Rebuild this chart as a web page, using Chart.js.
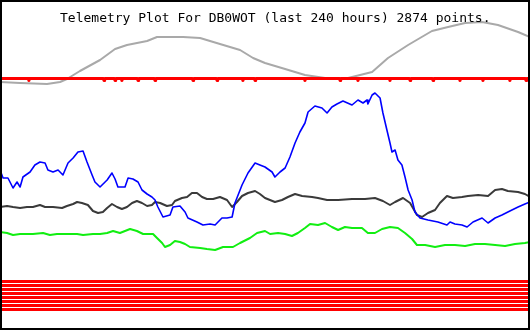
<!DOCTYPE html>
<html lang="en">
<head>
    <meta charset="UTF-8">
    <title>Telemetry Plot For DB0WOT</title>
    <script src="https://cdn.jsdelivr.net/npm/chart.js"></script>
    <style>
        body {
            margin: 0;
            padding: 0;
            background: #fff;
        }
        canvas {
            display: block;
        }
    </style>
</head>
<body>
    <canvas id="telemetry" width="530" height="330"></canvas>
    <script>
        // title text
        const titleText = 'Telemetry Plot For DB0WOT (last 240 hours) 2874 points.';

        // [hours, value]
        const grayTrace = [
            [0, 24.8], [9.1, 24.7], [21.3, 24.6], [27.2, 24.8], [30.3, 25.1], [36.2, 25.9],
            [45.3, 27.0], [52.1, 28.1], [57.5, 28.5], [66.6, 28.9], [71.1, 29.3], [82.9, 29.3],
            [90.6, 29.2], [99.6, 28.6], [108.7, 28.0], [114.6, 27.2], [120, 26.7], [129.1, 26.1],
            [138.1, 25.5], [147.2, 25.2], [157.6, 25.2], [168.5, 25.8], [175.7, 27.2], [184.8, 28.5],
            [195.6, 29.9], [202.9, 30.3], [210.6, 30.7], [218.3, 30.8], [225.5, 30.5], [234.6, 29.8],
            [240, 29.3]
        ];

        // red status line: level and the hours where it dips
        const redLevel = 25.15;
        const redDipLevel = 24.95;
        const redDips = [13.1, 47.1, 52.1, 55.2, 62.5, 70.2, 87.4, 98.3, 110, 115.5,
                         138.1, 154, 162.1, 176.6, 185.7, 196.1, 208.3, 218.7, 230.9, 238.2];

        const blueTrace = [
            [0, 16.0], [1.4, 15.2], [3.6, 15.2], [5.9, 14.2], [7.7, 14.8], [9.1, 14.3], [10.4, 15.3],
            [13.6, 15.8], [15.8, 16.5], [18.1, 16.8], [20.4, 16.7], [21.7, 16.0], [24.0, 15.8],
            [26.3, 16.0], [28.5, 15.5], [30.8, 16.7], [33.1, 17.2], [35.3, 17.8], [37.6, 17.9],
            [39.4, 16.8], [41.7, 15.5], [43.0, 14.8], [45.3, 14.3], [48.5, 15.0], [50.7, 15.7],
            [52.1, 15.1], [53.4, 14.3], [56.6, 14.3], [58.0, 15.2], [60.2, 15.1], [62.5, 14.8],
            [64.3, 14.0], [66.6, 13.6], [68.8, 13.3], [70.2, 13.0], [71.5, 12.3], [73.8, 11.3],
            [77.0, 11.5], [78.3, 12.3], [81.5, 12.4], [83.8, 11.8], [85.1, 11.2], [89.2, 10.8],
            [91.9, 10.5], [95.1, 10.6], [97.4, 10.5], [100.5, 11.2], [102.8, 11.2], [105.1, 11.3],
            [106.4, 12.7], [109.6, 14.5], [112.3, 15.7], [115.5, 16.7], [117.7, 16.5], [120.0, 16.3],
            [123.2, 15.8], [124.5, 15.3], [126.8, 15.8], [129.1, 16.2], [131.3, 17.3], [133.6, 18.7],
            [135.8, 19.8], [138.1, 20.7], [139.5, 21.8], [142.6, 22.4], [145.8, 22.2], [148.1, 21.7],
            [150.3, 22.3], [152.6, 22.6], [155.3, 22.9], [159.4, 22.5], [162.1, 23.0], [164.4, 22.7],
            [166.2, 23.0], [166.6, 22.6], [168.5, 23.5], [169.8, 23.7], [172.1, 23.2], [173.4, 21.7],
            [175.2, 20.0], [176.6, 18.7], [177.5, 17.8], [178.9, 18.0], [180.2, 17.0], [182.0, 16.5],
            [183.4, 15.3], [184.8, 14.0], [186.6, 13.0], [187.9, 11.8], [190.2, 11.2], [193.8, 11.0],
            [198.3, 10.8], [202.4, 10.5], [203.8, 10.8], [206.0, 10.6], [209.2, 10.5], [211.5, 10.3],
            [214.2, 10.8], [218.3, 11.2], [221.0, 10.7], [224.2, 11.2], [227.3, 11.5], [230.9, 11.9],
            [234.6, 12.3], [237.7, 12.6], [240, 12.8]
        ];

        const blackTrace = [
            [0, 12.3], [3.2, 12.4], [5.9, 12.3], [9.1, 12.2], [12.2, 12.3], [14.9, 12.3], [18.1, 12.5],
            [20.4, 12.3], [24.0, 12.3], [28.1, 12.2], [30.3, 12.4], [33.1, 12.6], [34.9, 12.8],
            [37.1, 12.7], [39.8, 12.5], [42.1, 11.9], [44.4, 11.7], [46.6, 11.8], [48.5, 12.2],
            [50.7, 12.6], [53.0, 12.3], [55.2, 12.1], [57.5, 12.3], [59.8, 12.7], [62.0, 12.9],
            [64.3, 12.7], [66.6, 12.4], [68.8, 12.5], [70.2, 12.8], [72.5, 12.7], [75.6, 12.4],
            [77.9, 12.5], [79.2, 12.9], [82.4, 13.2], [84.7, 13.3], [86.9, 13.7], [89.2, 13.7],
            [91.5, 13.3], [93.7, 13.1], [96.5, 13.1], [99.6, 13.3], [102.8, 13.0], [105.1, 12.3],
            [107.3, 12.8], [109.6, 13.4], [112.3, 13.7], [115.5, 13.9], [117.7, 13.6], [120.0, 13.2],
            [124.5, 12.8], [127.7, 13.0], [130.4, 13.3], [133.6, 13.6], [136.8, 13.4], [141.3, 13.3],
            [144.0, 13.2], [148.1, 13.0], [153.1, 13.0], [159.4, 13.1], [165.3, 13.1], [169.8, 13.2],
            [173.4, 12.9], [176.6, 12.5], [178.9, 12.8], [182.5, 13.2], [185.7, 12.7], [187.0, 12.2],
            [188.8, 11.5], [191.1, 11.3], [193.8, 11.7], [197.0, 12.0], [199.2, 12.7], [202.4, 13.4],
            [205.1, 13.2], [209.2, 13.3], [211.9, 13.4], [216.5, 13.5], [221.0, 13.4], [224.2, 14.0],
            [227.3, 14.1], [230.0, 13.9], [234.6, 13.8], [237.7, 13.6], [240, 13.3]
        ];

        const greenTrace = [
            [0, 9.8], [3.2, 9.7], [5.9, 9.5], [9.1, 9.6], [12.2, 9.6], [14.9, 9.6], [19.5, 9.7],
            [22.6, 9.5], [25.8, 9.6], [30.3, 9.6], [34.9, 9.6], [37.6, 9.5], [42.1, 9.6], [45.3, 9.6],
            [48.5, 9.7], [51.2, 9.9], [54.3, 9.7], [58.9, 10.1], [62.0, 9.9], [64.8, 9.6], [69.3, 9.6],
            [71.1, 9.2], [73.4, 8.7], [74.7, 8.3], [77.0, 8.5], [79.2, 8.9], [81.5, 8.8], [83.8, 8.6],
            [86.0, 8.3], [90.6, 8.2], [93.7, 8.1], [97.4, 8.0], [101.0, 8.3], [105.5, 8.3], [108.7, 8.7],
            [113.2, 9.2], [116.4, 9.7], [120.0, 9.9], [122.3, 9.6], [125.9, 9.7], [129.1, 9.6],
            [132.2, 9.4], [134.9, 9.7], [138.1, 10.2], [140.4, 10.6], [144.0, 10.5], [147.2, 10.7],
            [150.3, 10.3], [153.1, 10.0], [156.2, 10.3], [159.4, 10.2], [163.9, 10.2], [166.6, 9.7],
            [169.8, 9.7], [173.0, 10.1], [176.6, 10.3], [180.2, 10.2], [183.4, 9.7], [186.6, 9.1],
            [188.8, 8.5], [192.5, 8.5], [197.0, 8.3], [201.5, 8.5], [206.0, 8.5], [210.6, 8.4],
            [215.1, 8.6], [219.6, 8.6], [224.2, 8.5], [228.7, 8.4], [233.2, 8.6], [237.7, 8.7],
            [240, 8.8]
        ];

        // flat red channels at the bottom
        const redBandLevels = [4.85, 4.45, 4.05, 3.65, 3.25, 2.85, 2.45, 2.05];

        const toXY = arr => arr.map(p => ({ x: p[0], y: p[1] }));

        // build red status line with its dips
        const redLine = [{ x: 0, y: redLevel }];
        redDips.forEach(h => {
            redLine.push({ x: h - 0.3, y: redLevel });
            redLine.push({ x: h, y: redDipLevel });
            redLine.push({ x: h + 0.3, y: redLevel });
        });
        redLine.push({ x: 240, y: redLevel });

        const lineDs = (data, color, width) => ({
            data: data,
            borderColor: color,
            borderWidth: width,
            borderJoinStyle: 'round',
            pointRadius: 0,
            tension: 0,
            fill: false
        });

        const datasets = [
            lineDs(toXY(greenTrace), '#11ee11', 2),
            lineDs(toXY(blueTrace), '#0000ff', 1.6),
            lineDs(toXY(blackTrace), '#3a3a3a', 2),
            lineDs(redLine, '#ff0000', 3),
            lineDs(toXY(grayTrace), '#a9a9a9', 2)
        ];
        redBandLevels.forEach(v => {
            datasets.push(lineDs([{ x: 0, y: v }, { x: 240, y: v }], '#ff0000', 3));
        });

        // title + frame drawn on top
        const framePlugin = {
            id: 'frame',
            afterDraw(chart) {
                const ctx = chart.ctx;
                ctx.save();
                ctx.fillStyle = '#000';
                ctx.font = '13px "DejaVu Sans Mono", monospace';
                ctx.textBaseline = 'alphabetic';
                ctx.fillText(titleText, 60, 22);
                ctx.strokeStyle = '#000';
                ctx.lineWidth = 2;
                ctx.strokeRect(1, 1, chart.width - 2, chart.height - 2);
                ctx.restore();
            }
        };

        new Chart(document.getElementById('telemetry'), {
            type: 'line',
            data: { datasets: datasets },
            options: {
                responsive: false,
                animation: false,
                devicePixelRatio: 1,
                layout: { padding: 0 },
                plugins: {
                    legend: { display: false },
                    tooltip: { enabled: false },
                    title: { display: false }
                },
                scales: {
                    x: { type: 'linear', min: 0, max: 240, display: false },
                    y: { type: 'linear', min: 0, max: 33, display: false }
                }
            },
            plugins: [framePlugin]
        });
    </script>
</body>
</html>
